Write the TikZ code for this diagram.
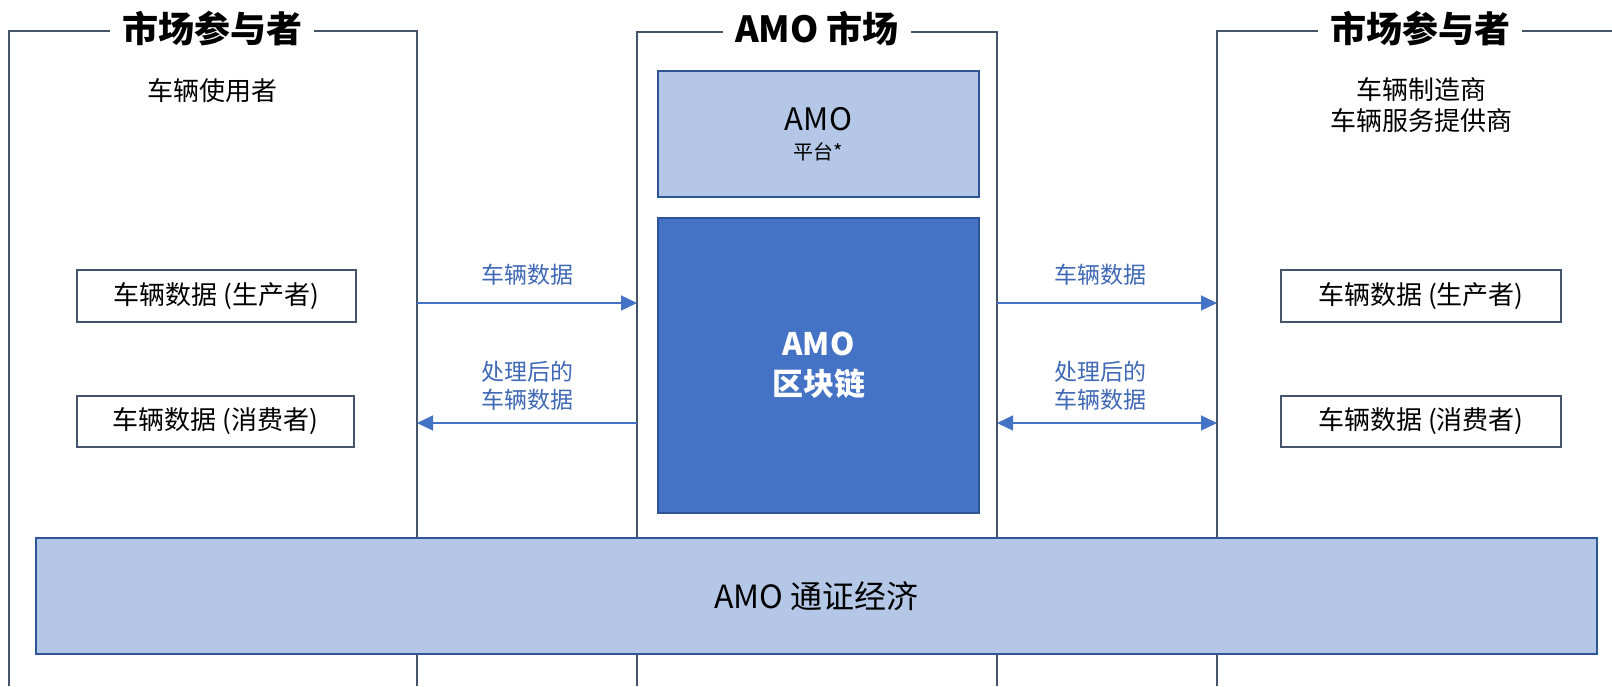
\documentclass[tikz,border=0pt]{standalone}
\usepackage{fontspec}
\setmainfont{Noto Sans CJK SC}
\usetikzlibrary{arrows.meta}
\definecolor{framec}{HTML}{44546A}
\definecolor{lightb}{HTML}{B4C7E7}
\definecolor{midb}{HTML}{4472C4}
\definecolor{darkb}{HTML}{2F5597}
\definecolor{labelb}{HTML}{3F68B5}
\newcommand{\fs}[1]{\fontsize{#1}{#1}\selectfont}
\tikzset{
  frameline/.style={draw=framec, line width=2.3pt},
  titletext/.style={fill=white, inner xsep=12pt, inner ysep=2pt, font=\fs{36}\bfseries, text=black},
  roletext/.style={font=\fs{26}, align=center, text=black, inner sep=0pt},
  databox/.style={draw=framec, line width=1.5pt, fill=white, font=\fs{26}, text=black, inner sep=0pt},
  bluebox/.style={draw=darkb, line width=2.2pt, inner sep=0pt, align=center},
  flow/.style={draw=midb, line width=1.4pt, -{Triangle[length=16pt,width=15pt]}},
  bothflow/.style={draw=midb, line width=1.4pt, {Triangle[length=16pt,width=15pt]}-{Triangle[length=16pt,width=15pt]}},
  flowlabel/.style={font=\fs{23}, text=labelb, align=center, inner sep=0pt}
}
\begin{document}
\begin{tikzpicture}[x=1pt,y=-1pt]
\useasboundingbox (0,0) rectangle (1612,686);

% frames (open at bottom)
\draw[frameline] (9,686) -- (9,31) -- (417,31) -- (417,686);
\draw[frameline] (637,686) -- (637,32) -- (997,32) -- (997,686);
\draw[frameline] (1217,686) -- (1217,31) -- (1612,31);

% frame titles
\node[titletext] (t1) at (212,29) {市场参与者};
\node[titletext] (t2) at (817,29) {AMO 市场};
\node[titletext] (t3) at (1420,29) {市场参与者};

% roles
\node[roletext] (r1) at (212,91) {车辆使用者};
\node[roletext] (r3) at (1421,105) {车辆制造商\\[5pt]车辆服务提供商};

% AMO platform and blockchain
\node[bluebox, fill=lightb, minimum width=321pt, minimum height=126pt] (plat) at (818.5,134)
  {{\fs{31}AMO}\\[11pt]{\fs{20}平台*}};
\node[bluebox, fill=midb, minimum width=321pt, minimum height=295pt, text=white, font=\fs{31}\bfseries] (chain) at (818.5,365.5)
  {AMO\\[9pt]区块链};

% data boxes
\node[databox, minimum width=279pt, minimum height=52pt] (lp) at (216.5,296) {车辆数据 (生产者)};
\node[databox, minimum width=277pt, minimum height=51pt] (lc) at (215.5,421.5) {车辆数据 (消费者)};
\node[databox, minimum width=280pt, minimum height=52pt] (rp) at (1421,296) {车辆数据 (生产者)};
\node[databox, minimum width=280pt, minimum height=51pt] (rc) at (1421,421.5) {车辆数据 (消费者)};

% connector end points on the frame lines
\coordinate (la1) at (417,303);
\coordinate (la2) at (637,303);
\coordinate (lb1) at (417,423);
\coordinate (lb2) at (637,423);
\coordinate (ra1) at (997,303);
\coordinate (ra2) at (1217,303);
\coordinate (rb1) at (997,423);
\coordinate (rb2) at (1217,423);

\draw[flow] (la1) -- (la2);
\draw[flow] (lb2) -- (lb1);
\draw[flow] (ra1) -- (ra2);
\draw[bothflow] (rb1) -- (rb2);

\node[flowlabel] (fl1) at (527,275) {车辆数据};
\node[flowlabel] (fl2) at (527,386) {处理后的\\[5pt]车辆数据};
\node[flowlabel] (fl3) at (1100,275) {车辆数据};
\node[flowlabel] (fl4) at (1100,386) {处理后的\\[5pt]车辆数据};

% token economy bar
\node[bluebox, fill=lightb, minimum width=1561pt, minimum height=116pt, font=\fs{32}, text=black] (bar) at (816.5,596) {AMO 通证经济};
\end{tikzpicture}
\end{document}
